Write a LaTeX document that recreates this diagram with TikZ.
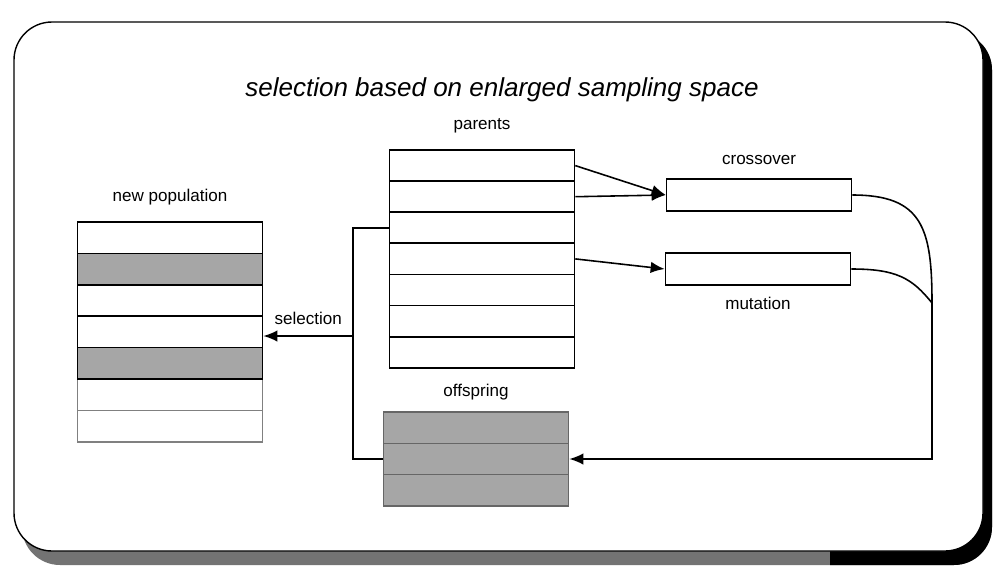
\documentclass[tikz,border=0pt]{standalone}
\usepackage{fontspec}
\setmainfont{Liberation Sans}
\usetikzlibrary{arrows.meta, positioning}

\begin{document}
\begin{tikzpicture}[
  x=0.2mm, y=-0.2mm,
  node distance=2mm,
  cell/.style={rectangle, draw, line width=0.9pt, minimum width=3.7cm,
               minimum height=0.625cm, inner sep=0pt},
  shd/.style={cell, fill=black!35},
  pale/.style={cell, draw=black!50},
  opbox/.style={cell, minimum height=0.64cm},
  lbl/.style={font=\fontsize{9.7}{12}\selectfont},
  line/.style={line width=0.9pt},
  arr/.style={line, -{Latex[length=8pt,width=6.5pt]}},
]
  \useasboundingbox (0,0) rectangle (993,575);

  % frame with its shadow
  \fill[black!55, rounded corners=7.6mm] (22,32) rectangle (992,565);
  \begin{scope}
    \clip (830,0) rectangle (993,575);
    \fill[black, rounded corners=7.6mm] (22,32) rectangle (992,565);
  \end{scope}
  \draw[fill=white, line width=0.8pt, rounded corners=7.6mm] (14,22) rectangle (983,551);

  \node[font=\fontsize{14.8}{18}\selectfont\itshape] (title) at (502,90)
    {selection based on enlarged sampling space};

  % parents
  \foreach \i in {1,...,7}
    \node[cell] (p\i) at (482,{134.5+31.1*\i}) {};
  \node[lbl, above=of p1] (plab) {parents};

  % new population
  \foreach \i/\s in {7/pale,6/pale,5/shd,4/cell,3/cell,2/shd,1/cell}
    \node[\s] (n\i) at (170,{206.3+31.4*\i}) {};
  \node[lbl, above=of n1] (nlab) {new population};

  % offspring
  \foreach \i in {1,2,3}
    \node[shd, draw=black!60] (o\i) at (476,{396.4+31.3*\i}) {};
  \node[lbl, above=1mm of o1] (olab) {offspring};

  % operators
  \node[opbox] (cr) at (759,195) {};
  \node[lbl, above=1.5mm of cr] (crlab) {crossover};
  \node[opbox] (mu) at (758,269) {};
  \node[lbl, below=1mm of mu] (mulab) {mutation};

  \draw[arr] (p1.east) -- (cr.west);
  \draw[arr] (p2.east) -- (cr.west);
  \draw[arr] (p4.east) -- (mu.west);

  % back to offspring
  \coordinate (jm) at (932,303);
  \draw[arr] (cr.east) .. controls +(70,0) and +(0,-75) .. (jm) |- (o2.east);
  \draw[line] (mu.east) .. controls +(45,0) and +(-20,-25) .. (jm);

  % selection loop
  \coordinate (sel) at (353,336);
  \draw[line] (p3.west) -| (sel) |- (o2.west);
  \draw[arr] (sel) -- (sel -| n4.east)
    node[lbl, midway, above=1mm] {selection};
\end{tikzpicture}
\end{document}
